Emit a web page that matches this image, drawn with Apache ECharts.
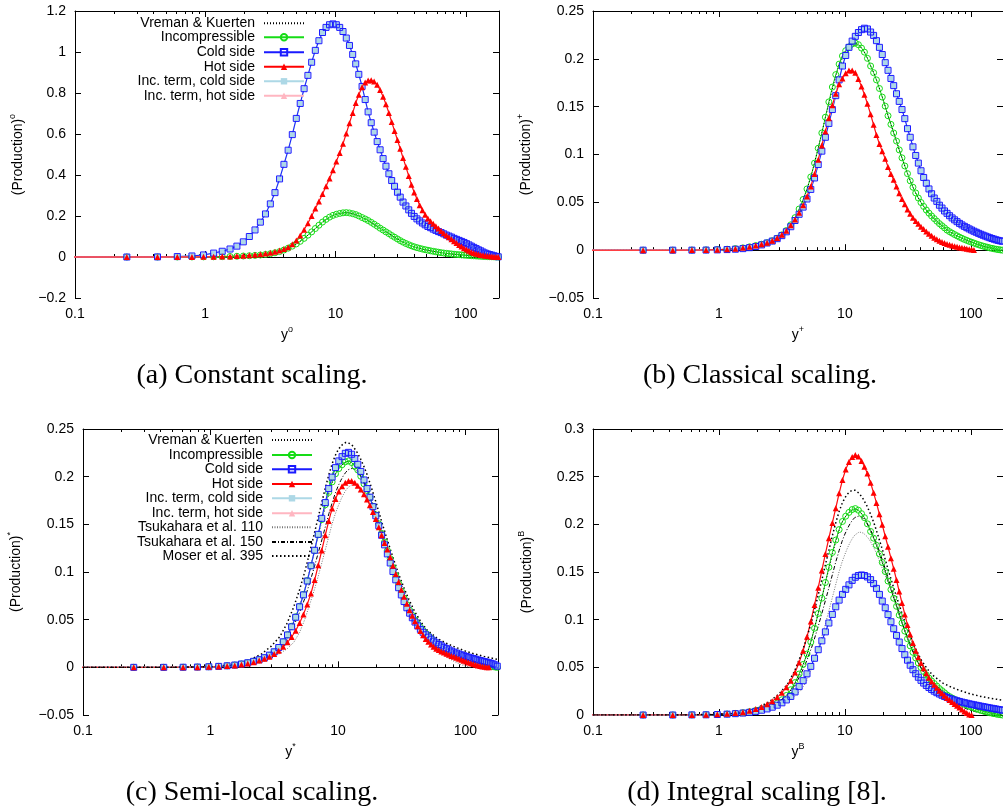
<!DOCTYPE html>
<html><head><meta charset="utf-8">
<script src="https://cdn.jsdelivr.net/npm/echarts@6/dist/echarts.min.js"></script>
<style>html,body{margin:0;padding:0;background:#fff}#c{width:1003px;height:810px}</style>
</head><body><div id="c"></div>
<script>
// ---------- tick labels ----------
const majorTicks = [0.1, 1, 10, 100];
const minorTicks = [0.2,0.3,0.4,0.5,0.6,0.7,0.8,0.9,2,3,4,5,6,7,8,9,20,30,40,50,60,70,80,90];

// ---------- legend names ----------
const namesA = ['Vreman & Kuerten','Incompressible','Cold side','Hot side','Inc. term, cold side','Inc. term, hot side'];
const namesC = namesA.concat(['Tsukahara et al. 110','Tsukahara et al. 150','Moser et al. 395']);
const captions = ['(a) Constant scaling.','(b) Classical scaling.','(c) Semi-local scaling.','(d) Integral scaling [8].'];
const supers = ['o','+','*','B'];

// ---------- wall-normal grid of the simulation ----------
const yGrid = [0.07,0.25,0.43,0.61,0.79,0.97,1.16,1.35,1.55,1.75,
1.96,2.18,2.41,2.65,2.9,3.16,3.43,3.72,4.02,4.33,
4.66,5.0,5.36,5.74,6.14,6.56,7.0,7.46,7.95,8.46,
9.0,9.56,10.15,10.77,11.42,12.1,12.8,13.55,14.3,15.1,
16.0,16.9,17.8,18.8,19.8,20.9,22.0,23.2,24.4,25.7,
27.0,28.4,29.9,31.4,33.0,34.7,36.5,38.3,40.2,42.2,
44.3,46.5,48.8,51.2,53.7,56.3,59.0,61.8,64.7,67.8,
71.0,74.3,77.7,81.3,85.0,88.9,92.9,97.0,101.3,105.8,
110.4,115.2,120.1,125.2,130.4,135.8,141.3,147.0,152.8,158.8,
164.9,171.2,177.6];

// Incompressible (same in all scalings)
const incY = [0,0,0,0.0001,0.0003,0.0006,0.001,0.0016,0.0024,0.0035,
0.0048,0.0062,0.0078,0.0098,0.0125,0.016,0.0205,0.0265,0.034,0.043,
0.053,0.064,0.0765,0.091,0.1065,0.1225,0.139,0.155,0.1705,0.1835,
0.1945,0.203,0.2085,0.2125,0.2155,0.2165,0.2148,0.2112,0.207,0.2005,
0.1925,0.1855,0.178,0.169,0.16,0.1505,0.1405,0.1315,0.1225,0.114,
0.1048,0.0965,0.088,0.08,0.0725,0.0658,0.0598,0.0545,0.0498,0.0457,
0.042,0.0387,0.0357,0.033,0.0303,0.0277,0.0255,0.0233,0.021,0.0193,
0.0178,0.0163,0.015,0.0136,0.0124,0.0112,0.0102,0.0092,0.0083,0.0074,
0.0065,0.0057,0.0049,0.0042,0.0036,0.003,0.0024,0.0019,0.0014,0.001,
0.0006,0.0003,0];

// (a) constant scaling
const coldA = [0,0,0.0005,0.002,0.005,0.01,0.019,0.028,0.039,0.053,
0.074,0.1,0.132,0.17,0.21,0.259,0.314,0.381,0.452,0.521,
0.597,0.676,0.749,0.821,0.886,0.95,1.008,1.055,1.095,1.12,
1.133,1.137,1.133,1.12,1.1,1.068,1.032,0.988,0.942,0.891,
0.832,0.768,0.708,0.655,0.609,0.563,0.523,0.48,0.443,0.406,
0.373,0.345,0.316,0.292,0.268,0.249,0.23,0.213,0.198,0.186,
0.176,0.166,0.157,0.149,0.143,0.136,0.13,0.124,0.119,0.113,
0.107,0.102,0.097,0.091,0.086,0.081,0.076,0.071,0.065,0.059,
0.053,0.047,0.041,0.035,0.03,0.024,0.019,0.015,0.012,0.009,
0.006,0.003,0.001];
const hotA = [0,0,0,0.0001,0.0003,0.0007,0.0012,0.002,0.003,0.0043,
0.006,0.008,0.0105,0.0135,0.017,0.021,0.026,0.032,0.039,0.048,
0.062,0.081,0.105,0.133,0.165,0.2,0.236,0.271,0.307,0.345,
0.383,0.423,0.466,0.507,0.553,0.602,0.653,0.703,0.751,0.792,
0.828,0.851,0.861,0.862,0.856,0.84,0.815,0.782,0.745,0.703,
0.659,0.615,0.571,0.528,0.483,0.44,0.395,0.352,0.315,0.283,
0.253,0.228,0.206,0.188,0.174,0.162,0.15,0.139,0.127,0.116,
0.106,0.096,0.086,0.077,0.068,0.059,0.051,0.043,0.036,0.03,
0.024,0.019,0.016,0.013,0.01,0.008,0.006,0.0045,0.0032,0.0022,
0.0013,0.0006,0];

// (b) classical scaling
const coldB = [0,0,0,0,0.0001,0.0003,0.0006,0.001,0.0016,0.0026,
0.0038,0.0055,0.0075,0.0095,0.012,0.0152,0.0192,0.0245,0.031,0.0375,
0.045,0.0535,0.0635,0.0755,0.0895,0.1035,0.118,0.1325,0.147,0.1615,
0.178,0.1925,0.2035,0.212,0.2185,0.2235,0.2275,0.2305,0.232,0.2312,
0.228,0.2245,0.219,0.212,0.2045,0.196,0.188,0.1795,0.172,0.1635,
0.1555,0.147,0.1375,0.127,0.118,0.108,0.099,0.091,0.083,0.076,
0.07,0.064,0.059,0.0545,0.051,0.047,0.044,0.041,0.0385,0.036,
0.0337,0.0317,0.0298,0.028,0.0264,0.0249,0.0235,0.0222,0.021,0.0198,
0.0187,0.0176,0.0166,0.0156,0.0147,0.0138,0.013,0.0122,0.0115,0.0108,
0.0102,0.0097,0.0093];
const hotB = [0,0,0,0.0001,0.0002,0.0005,0.0009,0.0015,0.0024,0.0035,
0.0048,0.0062,0.0078,0.0099,0.0126,0.016,0.0203,0.026,0.032,0.039,
0.047,0.056,0.0665,0.0795,0.0945,0.1095,0.124,0.138,0.1515,0.1635,
0.1735,0.1795,0.1848,0.1877,0.1878,0.1855,0.179,0.171,0.1625,0.153,
0.142,0.131,0.1203,0.111,0.1035,0.0955,0.087,0.0795,0.0735,0.0665,
0.0595,0.0535,0.048,0.0425,0.038,0.034,0.0305,0.0275,0.0245,0.022,
0.0195,0.0172,0.015,0.013,0.0114,0.0099,0.0086,0.0075,0.0065,0.0056,
0.0048,0.0041,0.0035,0.0029,0.0024,0.0019,0.0014,0.001,0.0006,0.0002];

// (c) semi-local scaling
const coldC = [0,0,0,0.0001,0.0003,0.0006,0.001,0.0016,0.0024,0.0035,
0.0048,0.0063,0.008,0.0101,0.0128,0.0163,0.0208,0.0268,0.034,0.0425,
0.0525,0.0635,0.076,0.0905,0.1065,0.1228,0.1395,0.1563,0.1728,0.1875,
0.1995,0.2095,0.2165,0.221,0.2245,0.2255,0.2235,0.219,0.213,0.2055,
0.1965,0.1875,0.1785,0.1685,0.159,0.1485,0.1385,0.1285,0.119,0.1095,
0.1005,0.0918,0.0835,0.076,0.069,0.0625,0.0568,0.052,0.0475,0.0435,
0.0398,0.0368,0.0341,0.0317,0.0295,0.0275,0.0257,0.024,0.0225,0.021,
0.0196,0.0183,0.0171,0.016,0.015,0.014,0.0131,0.0122,0.0114,0.0106,
0.0099,0.0092,0.0085,0.0078,0.0072,0.0066,0.006,0.0054,0.0048,0.0042,
0.0035,0.0025,0.0012];
const hotC = [0,0,0,0.0001,0.0002,0.0005,0.0008,0.0013,0.002,0.0029,
0.004,0.0054,0.0072,0.009,0.0112,0.014,0.0175,0.0215,0.0262,0.0318,
0.0385,0.0465,0.0555,0.066,0.0775,0.0915,0.107,0.1225,0.1385,0.1535,
0.1665,0.1765,0.1845,0.19,0.1935,0.1955,0.1955,0.1935,0.1905,0.1865,
0.1815,0.176,0.17,0.163,0.1555,0.147,0.1385,0.1305,0.1235,0.1155,
0.1065,0.098,0.0895,0.0815,0.074,0.0668,0.06,0.054,0.0483,0.043,
0.038,0.0336,0.0298,0.0268,0.024,0.0215,0.0196,0.0181,0.0167,0.0155,
0.0143,0.0131,0.012,0.011,0.01,0.009,0.008,0.007,0.006,0.0051,
0.0042,0.0034,0.0027,0.002,0.0014,0.0009,0.0005,0.0002,0];

// (d) integral scaling
const coldD = [0,0,0,0.0001,0.0002,0.0005,0.0009,0.0014,0.002,0.0028,
0.0038,0.005,0.0064,0.0082,0.0103,0.0128,0.0158,0.0195,0.0242,0.0298,
0.036,0.0432,0.051,0.0595,0.0685,0.0778,0.0872,0.0965,0.1055,0.1135,
0.1205,0.1265,0.1318,0.1365,0.1412,0.1445,0.1463,0.1469,0.1463,0.1448,
0.142,0.1378,0.1328,0.1265,0.1195,0.1125,0.1053,0.0978,0.0905,0.0835,
0.0765,0.0697,0.0632,0.0575,0.0522,0.0475,0.0433,0.0396,0.0364,0.0335,
0.031,0.0288,0.0268,0.025,0.0234,0.022,0.0207,0.0195,0.0184,0.0174,
0.0165,0.0157,0.0149,0.0142,0.0135,0.0129,0.0123,0.0117,0.0112,0.0107,
0.0102,0.0097,0.0092,0.0088,0.0083,0.0079,0.0074,0.007,0.0066,0.0062,
0.0058,0.0054,0.005];
const hotD = [0,0,0,0.0001,0.0003,0.0007,0.0012,0.002,0.003,0.0045,
0.0063,0.0085,0.0112,0.0145,0.0185,0.0233,0.029,0.0358,0.0445,0.055,
0.0675,0.082,0.098,0.1155,0.1335,0.1515,0.169,0.1855,0.2015,0.217,
0.2325,0.2465,0.2575,0.2655,0.2705,0.2727,0.2712,0.2665,0.2605,0.2532,
0.2435,0.233,0.2225,0.2105,0.1995,0.1875,0.1765,0.1645,0.1535,0.1415,
0.1295,0.1175,0.1055,0.0945,0.0845,0.0755,0.0675,0.0605,0.0545,0.049,
0.0438,0.0392,0.0352,0.0317,0.0285,0.0255,0.0228,0.0203,0.0179,0.0157,
0.0136,0.0116,0.0097,0.0078,0.0058,0.0038,0.002,0.0006,0];

// Vreman & Kuerten reference
const vkX = [0.1,0.5,1,1.5,2,2.5,3,3.5,4,4.5,5,5.5,6,6.5,7,7.5,8,8.5,9,9.5,
10,11,12,13,14,15,16,17,18,20,22,24,26,28,30,33,36,40,45,50,60,70,80,100,120,140,160,180];
const vkY = [0,0,0.0005,0.0022,0.0047,0.0083,0.0135,0.0205,0.0325,0.047,
0.0635,0.082,0.1015,0.1205,0.1385,0.1545,0.1695,0.1825,0.1935,0.2022,
0.2075,0.2135,0.2162,0.2142,0.2088,0.2015,0.193,0.185,0.1765,0.1585,
0.1408,0.1255,0.1118,0.0988,0.0875,0.0728,0.061,0.0502,0.0408,0.0338,
0.0245,0.0182,0.014,0.0085,0.0049,0.0025,0.0009,0];

// Moser et al. 395
const refX = [0.1,0.5,1,1.5,2,2.5,3,3.5,4,4.5,5,5.5,6,6.5,7,7.5,8,8.5,9,9.5,
10,10.5,11,11.5,12,13,14,15,16,17,18,20,22,24,26,28,30,33,36,40,45,50,60,70,80,100,120,140,160,180];
const moserC = [0,0,0.0008,0.0028,0.0072,0.0138,0.0222,0.0322,0.0465,0.0635,
0.0815,0.1005,0.1205,0.1395,0.1575,0.174,0.1895,0.2025,0.2135,0.2218,
0.2278,0.2318,0.2345,0.2358,0.2358,0.2325,0.2265,0.219,0.2105,0.2015,
0.1915,0.172,0.153,0.1365,0.122,0.109,0.0975,0.083,0.0712,0.0585,
0.047,0.0392,0.0305,0.0255,0.0221,0.017,0.0138,0.0115,0.0097,0.0082];
const moserD = [0,0,0.0008,0.0028,0.0072,0.0138,0.0222,0.0322,0.0465,0.0635,
0.0815,0.1005,0.1205,0.1395,0.1575,0.174,0.1895,0.2025,0.2135,0.2218,
0.2278,0.2318,0.2345,0.2358,0.2358,0.2325,0.2265,0.219,0.2105,0.2015,
0.1915,0.172,0.153,0.1365,0.122,0.109,0.0975,0.083,0.0712,0.0585,
0.0485,0.0415,0.0335,0.0292,0.0262,0.022,0.0195,0.0178,0.0165,0.0155];

// Tsukahara et al. 150
const t150X = [0.1,0.5,1,1.5,2,2.5,3,3.5,4,4.5,5,5.5,6,6.5,7,7.5,8,8.5,9,9.5,
10,10.5,11,11.5,12,13,14,15,16,17,18,20,22,24,26,28,30,33,36,40,45,50,60,70,80,100,120,140,150];
const t150Y = [0,0,0.0006,0.002,0.0048,0.0088,0.0142,0.0212,0.031,0.0435,
0.0575,0.0725,0.0885,0.1045,0.12,0.1345,0.1485,0.1615,0.1725,0.1822,
0.1898,0.1958,0.2008,0.2045,0.2072,0.2088,0.2062,0.2008,0.1942,0.1868,
0.1788,0.1612,0.1442,0.1282,0.1135,0.1003,0.0888,0.0742,0.062,0.0497,
0.0382,0.0298,0.0195,0.0135,0.0096,0.0048,0.0019,0.0004,0];

// Tsukahara et al. 110
const t110X = [0.1,0.5,1,1.5,2,2.5,3,3.5,4,4.5,5,5.5,6,6.5,7,7.5,8,8.5,9,9.5,
10,10.5,11,11.5,12,13,14,15,16,17,18,20,22,24,26,28,30,33,36,40,45,50,60,70,80,90,100,110];
const t110Y = [0,0,0.0005,0.0016,0.0038,0.0068,0.0105,0.0145,0.0195,0.0262,
0.0365,0.0505,0.066,0.0805,0.0955,0.1105,0.1245,0.138,0.1505,0.1605,
0.1685,0.1755,0.181,0.1855,0.1888,0.192,0.1908,0.1872,0.1818,0.1752,
0.168,0.1525,0.1388,0.127,0.1155,0.1045,0.0945,0.0805,0.068,0.0545,
0.0418,0.0318,0.0185,0.0112,0.0068,0.0035,0.0012,0];

// ---------- styling / layout ----------
const FONT = '"Liberation Sans", Arial, Helvetica, sans-serif';
const GREEN = '#16dc16', BLUE = '#1a1aff', RED = '#ff0000', LBLUE = '#add8e6', PINK = '#ffb6c1';
const NOFILL = 'rgba(255,255,255,0)';
const pair = (xs, ys) => ys.map((v, k) => [xs[k], v]);
const fmtY = v => { const r = Math.round(v * 1000) / 1000; return (r < 0 ? '\u2212' : '') + String(Math.abs(r)); };
const fmtX = v => String(+(+v).toPrecision(3));
const rich = { n: {fontSize: 14, fontFamily: FONT, color: '#000', lineHeight: 20},
               s: {fontSize: 9, fontFamily: FONT, color: '#000', verticalAlign: 'top'} };

const panels = [
  {g:{left:75, top:11, width:424, height:287}, y:[-0.2,1.2,0.2], cold:coldA, hot:hotA, moser:null, yGap:47},
  {g:{left:593,top:11, width:413, height:287}, y:[-0.05,0.25,0.05], cold:coldB, hot:hotB, moser:null, yGap:57},
  {g:{left:83, top:429,width:415, height:286}, y:[-0.05,0.25,0.05], cold:coldC, hot:hotC, moser:moserC, yGap:57},
  {g:{left:593,top:429,width:413, height:286}, y:[0,0.3,0.05], cold:coldD, hot:hotD, moser:moserD, yGap:56}
];

const grid = [], xAxis = [], yAxis = [], series = [];
const axLine = {show:true, lineStyle:{color:'#000', width:1}};
panels.forEach((p, i) => {
  grid.push(Object.assign({containLabel:false}, p.g));
  const base = {gridIndex:i, type:'log', logBase:10, min:0.1, max:180, splitLine:{show:false}, minorSplitLine:{show:false}};
  xAxis.push(Object.assign({}, base, {position:'bottom', axisLine:axLine,
    axisTick:{show:true, inside:true, length:6, customValues:majorTicks, lineStyle:{color:'#000'}},
    axisLabel:{show:true, customValues:majorTicks, formatter:fmtX, color:'#000', fontSize:14, fontFamily:FONT, margin:9},
    name:'{n|y}{s|' + supers[i] + '}', nameLocation:'middle', nameGap:27, nameTextStyle:{rich:rich}}));
  xAxis.push(Object.assign({}, base, {position:'bottom', axisLine:{show:false},
    axisTick:{show:true, inside:true, length:3, customValues:minorTicks, lineStyle:{color:'#000'}}, axisLabel:{show:false}}));
  xAxis.push(Object.assign({}, base, {position:'top', axisLine:axLine,
    axisTick:{show:true, inside:true, length:6, customValues:majorTicks, lineStyle:{color:'#000'}}, axisLabel:{show:false}}));
  xAxis.push(Object.assign({}, base, {position:'top', axisLine:{show:false},
    axisTick:{show:true, inside:true, length:3, customValues:minorTicks, lineStyle:{color:'#000'}}, axisLabel:{show:false}}));
  const yb = {gridIndex:i, type:'value', min:p.y[0], max:p.y[1], interval:p.y[2], splitLine:{show:false}, axisLine:axLine,
    axisTick:{show:true, inside:true, length:6, lineStyle:{color:'#000'}}};
  yAxis.push(Object.assign({}, yb, {position:'left',
    axisLabel:{formatter:fmtY, color:'#000', fontSize:14, fontFamily:FONT, margin:9},
    name:'{n|(Production)}{s|' + supers[i] + '}', nameLocation:'middle', nameRotate:90, nameGap:p.yGap, nameTextStyle:{rich:rich}}));
  yAxis.push(Object.assign({}, yb, {position:'right', axisLabel:{show:false}}));

  const xi = i * 4, yi = i * 2;
  const common = {type:'line', xAxisIndex:xi, yAxisIndex:yi, showAllSymbol:true, animation:false, clip:true, emphasis:{disabled:true}};
  series.push(Object.assign({}, common, {name:'Incompressible', data:pair(yGrid, incY), symbol:'circle', symbolSize:6,
    itemStyle:{color:NOFILL, borderColor:GREEN, borderWidth:1}, lineStyle:{color:GREEN, width:1}}));
  series.push(Object.assign({}, common, {name:'Vreman & Kuerten', data:pair(vkX, vkY), symbol:'none',
    itemStyle:{color:NOFILL, borderWidth:0}, lineStyle:{color:'#000', width:1, type:[1,2]}}));
  series.push(Object.assign({}, common, {name:'Inc. term, cold side', data:pair(yGrid, p.cold), symbol:'rect', symbolSize:5,
    itemStyle:{color:LBLUE}, lineStyle:{color:LBLUE, width:1.5}}));
  series.push(Object.assign({}, common, {name:'Cold side', data:pair(yGrid, p.cold), symbol:'rect', symbolSize:6,
    itemStyle:{color:NOFILL, borderColor:BLUE, borderWidth:1}, lineStyle:{color:BLUE, width:1}}));
  series.push(Object.assign({}, common, {name:'Inc. term, hot side', data:pair(yGrid, p.hot), symbol:'triangle', symbolSize:4,
    itemStyle:{color:PINK}, lineStyle:{color:PINK, width:1.5}}));
  series.push(Object.assign({}, common, {name:'Hot side', data:pair(yGrid, p.hot), symbol:'triangle', symbolSize:6,
    itemStyle:{color:RED}, lineStyle:{color:RED, width:1}}));
  if (p.moser) {
    series.push(Object.assign({}, common, {name:'Tsukahara et al. 110', data:pair(t110X, t110Y), symbol:'none',
      itemStyle:{color:NOFILL, borderWidth:0}, lineStyle:{color:'#777', width:1, type:[1,1.5]}}));
    series.push(Object.assign({}, common, {name:'Tsukahara et al. 150', data:pair(t150X, t150Y), symbol:'none',
      itemStyle:{color:NOFILL, borderWidth:0}, lineStyle:{color:'#000', width:1, type:[4,2,1,2]}}));
    series.push(Object.assign({}, common, {name:'Moser et al. 395', data:pair(refX, p.moser), symbol:'none',
      itemStyle:{color:NOFILL, borderWidth:0}, lineStyle:{color:'#000', width:1.5, type:[1.5,2.5]}}));
  }
});

const rowsA = [23.3, 37.3, 52.3, 66.7, 81.3, 95.7];
const rowsC = [440, 455, 469.3, 484, 498.3, 513.3, 527.3, 542, 556];
const lineOnly = {'Vreman & Kuerten':1, 'Tsukahara et al. 110':1, 'Tsukahara et al. 150':1, 'Moser et al. 395':1};
const mkLegend = (name, right, top) => ({
  data:[lineOnly[name] ? {name:name, itemStyle:{color:NOFILL, borderColor:NOFILL, borderWidth:0}} : name],
  orient:'vertical', right:right, top:top, align:'right',
  itemWidth:40, itemHeight:8, itemGap:0, padding:0, selectedMode:false,
  textStyle:{fontSize:14, fontFamily:FONT, color:'#000', padding:[0,4,0,0]}});
const legend = namesA.map((n, k) => mkLegend(n, 698, rowsA[k] - 7))
  .concat(namesC.map((n, k) => mkLegend(n, 690, rowsC[k] - 7)));

const capPos = [[252,376],[760,376],[252,793],[757,793]];
const graphic = captions.map((t, k) => ({type:'text', x:capPos[k][0], y:capPos[k][1], silent:true,
  style:{text:t, font:'28px "Liberation Serif", "Times New Roman", serif', fill:'#000',
         align:'center', verticalAlign:'middle', textAlign:'center', textVerticalAlign:'middle'}}));

const chart = echarts.init(document.getElementById('c'), null, {renderer:'canvas'});
chart.setOption({backgroundColor:'#fff', animation:false, grid:grid, xAxis:xAxis, yAxis:yAxis,
  series:series, legend:legend, graphic:graphic});
</script></body></html>
